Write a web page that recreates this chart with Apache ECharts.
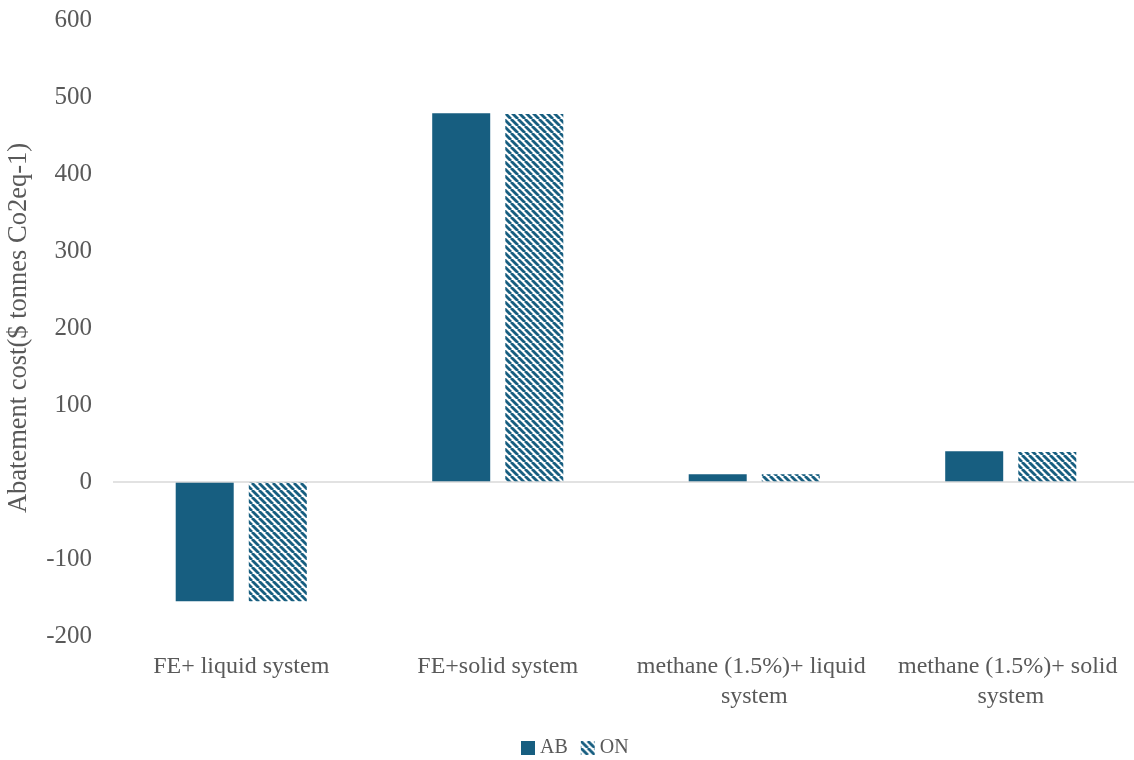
<!DOCTYPE html>
<html>
<head>
<meta charset="utf-8">
<script src="https://cdn.jsdelivr.net/npm/echarts@6/dist/echarts.min.js"></script>
<style>
  html, body { margin: 0; padding: 0; background: #ffffff; }
  #chart { width: 1134px; height: 760px; }
</style>
</head>
<body>
<div id="chart"></div>
<script>
// Abatement cost per scenario, two provinces
const categories = [
  'FE+ liquid system',
  'FE+solid system',
  'methane (1.5%)+ liquid system',
  'methane (1.5%)+ solid system'
];
const seriesNames = ['AB', 'ON'];
const abValues = [-155, 479, 10, 40];
const onValues = [-155, 478, 10, 39];
const yTicks = { min: -200, max: 600, step: 100 };

const BLUE = '#175e80';
const TEXT = '#595959';
const FONT = '"Liberation Serif", "DejaVu Serif", serif';

// diagonal hatch tile for the second series
function hatch(color) {
  const s = 7;
  const c = document.createElement('canvas');
  c.width = s; c.height = s;
  const g = c.getContext('2d');
  g.strokeStyle = color;
  g.lineWidth = 2.8;
  [-s, 0, s].forEach(function (x0) {
    g.beginPath();
    g.moveTo(x0, 0);
    g.lineTo(x0 + s, s);
    g.stroke();
  });
  return c;
}
const hatchFill = { image: hatch(BLUE), repeat: 'repeat' };

const chart = echarts.init(document.getElementById('chart'), null, { renderer: 'canvas' });
chart.setOption({
  animation: false,
  backgroundColor: '#ffffff',
  textStyle: { fontFamily: FONT, color: TEXT },
  grid: {
    left: 113, right: -5, top: 20, bottom: 124,
    containLabel: false,
    outerBoundsMode: 'none'
  },
  legend: {
    data: seriesNames,
    icon: 'rect',
    left: 521,
    top: 738,
    padding: 0,
    itemWidth: 14,
    itemHeight: 14,
    itemGap: 13,
    textStyle: { fontFamily: FONT, fontSize: 20, color: TEXT }
  },
  xAxis: {
    type: 'category',
    data: categories,
    axisLine: { show: false, onZero: false },
    axisTick: { show: false },
    axisLabel: {
      fontFamily: FONT,
      fontSize: 24,
      color: TEXT,
      margin: 16,
      lineHeight: 30,
      width: 245,
      overflow: 'break',
      interval: 0
    }
  },
  yAxis: {
    type: 'value',
    min: yTicks.min,
    max: yTicks.max,
    interval: yTicks.step,
    axisLine: { show: false },
    axisTick: { show: false },
    splitLine: { show: false },
    axisLabel: { fontFamily: FONT, fontSize: 25, color: TEXT, margin: 21 },
    name: 'Abatement cost($ tonnes Co2eq-1)',
    nameLocation: 'middle',
    nameRotate: 90,
    nameGap: 80,
    nameTextStyle: { fontFamily: FONT, fontSize: 26.5, color: TEXT }
  },
  series: [
    {
      name: seriesNames[0],
      type: 'bar',
      data: abValues,
      barWidth: 58,
      barGap: '26%',
      itemStyle: { color: BLUE },
      markLine: {
        silent: true,
        symbol: 'none',
        label: { show: false },
        lineStyle: { color: '#d9d9d9', width: 1.5, type: 'solid' },
        data: [{ yAxis: 0 }]
      }
    },
    {
      name: seriesNames[1],
      type: 'bar',
      data: onValues,
      barWidth: 58,
      itemStyle: { color: hatchFill }
    }
  ]
});
</script>
</body>
</html>
